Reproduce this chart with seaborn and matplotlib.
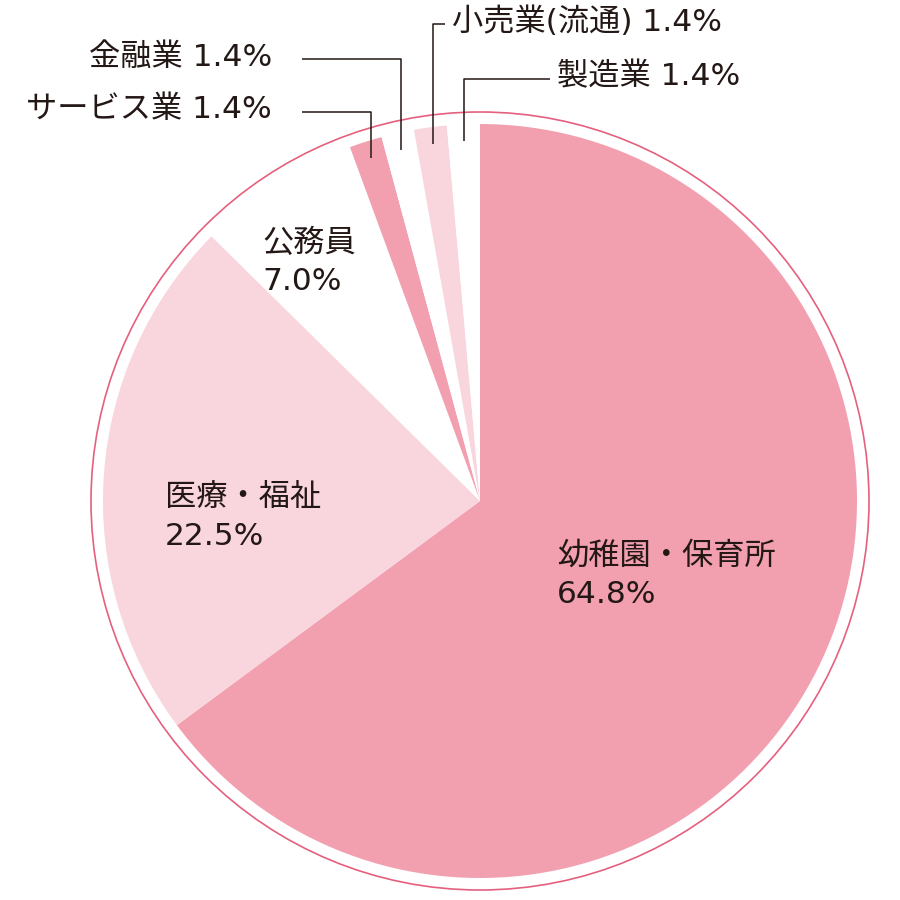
import numpy as np
import matplotlib
matplotlib.use("Agg")
import matplotlib.pyplot as plt
import seaborn as sns

# データ
categories = ["幼稚園・保育所", "医療・福祉", "公務員", "サービス業", "金融業", "小売業(流通)", "製造業"]
shares = [64.8, 22.5, 7.0, 1.4, 1.4, 1.4, 1.4]
slice_colors = ["#F2A0B0", "#F9D5DE", "#FFFFFF", "#F2A0B0", "#FFFFFF", "#F9D5DE", "#FFFFFF"]

sns.set_theme(style="white")
# 数字は DejaVu、日本語は Noto Sans CJK JP
plt.rcParams['font.family'] = ['DejaVu Sans', 'Noto Sans CJK JP']

W = H = 900
fig = plt.figure(figsize=(9, 9), dpi=100)
ax = fig.add_axes([0, 0, 1, 1])

cx, cy, R = 480, H - 501, 377
palette = sns.color_palette(slice_colors)
ax.pie(shares, colors=palette, startangle=90, counterclock=False,
       center=(cx, cy), radius=R, wedgeprops=dict(linewidth=0))

# 外周の円
ax.add_patch(plt.Circle((cx, cy), 389, fill=False, ec="#E5607F", lw=1.2))

ax.set_xlim(0, W)
ax.set_ylim(0, H)
ax.set_aspect("equal")
ax.axis("off")

txt = "#231815"
fs = 22.5

# 内側ラベル
inner = {0: (557, 575), 1: (165, 517), 2: (262, 262)}
for i, (x, y) in inner.items():
    ax.text(x, H - y, f"{categories[i]}\n{shares[i]:.1f}%", ha="left", va="center",
            fontsize=fs, color=txt, linespacing=1.4)

# 外側ラベル（引き出し線つき）
outer = {3: (272, 110, "right"), 4: (272, 57, "right"), 5: (452, 22, "left"), 6: (557, 77, "left")}
cum = np.cumsum([0] + shares[:-1]) / sum(shares)
for i, (x, y, ha) in outer.items():
    mid = (cum[i] + shares[i] / sum(shares) / 2) * 2 * np.pi
    ax_x = cx + 0.955 * R * np.sin(mid)
    ax_y = cy + 0.955 * R * np.cos(mid)
    end_x = x + 30 if ha == "right" else x - 7
    ly = H - y - 2
    ax.plot([ax_x, ax_x, end_x], [ax_y, ly, ly], color=txt, lw=1.1, solid_capstyle="butt")
    ax.text(x, H - y, f"{categories[i]} {shares[i]:.1f}%", ha=ha, va="center",
            fontsize=fs, color=txt)

fig.savefig("out.png", dpi=100, facecolor="white")
